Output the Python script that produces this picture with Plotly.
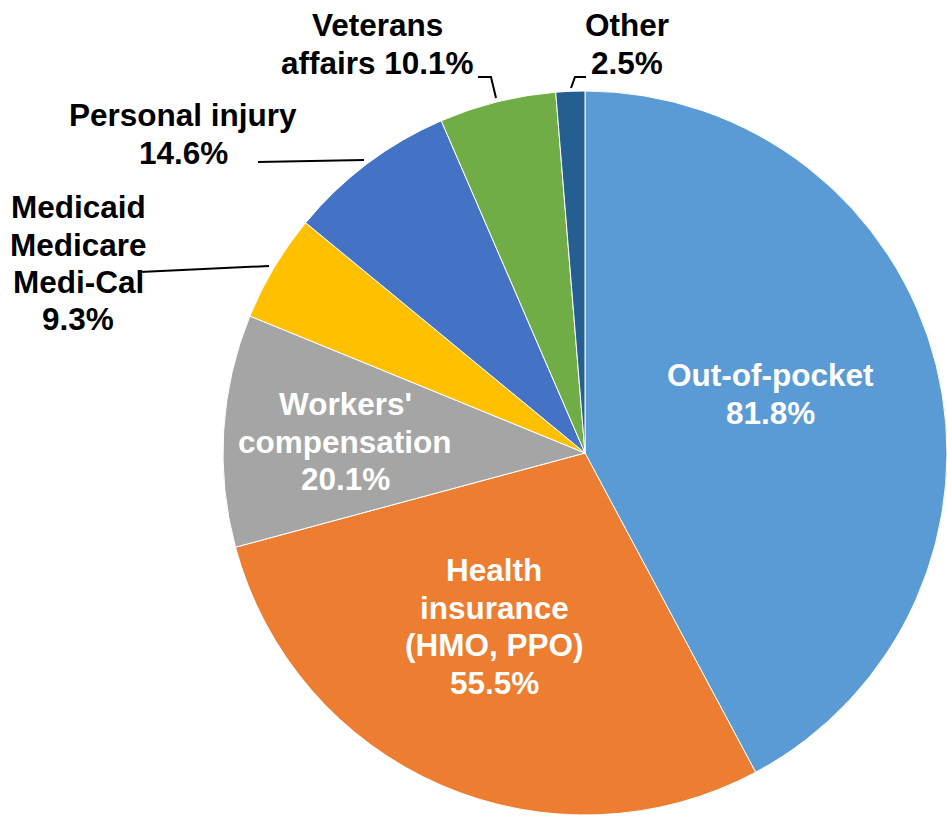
import plotly.graph_objects as go

# ---- data ----
categories = ["Out-of-pocket", "Health insurance (HMO, PPO)", "Workers' compensation",
              "Medicaid Medicare Medi-Cal", "Personal injury", "Veterans affairs", "Other"]
values = [81.8, 55.5, 20.1, 9.3, 14.6, 10.1, 2.5]
label_lines = [
    ["Out-of-pocket"],
    ["Health", "insurance", "(HMO, PPO)"],
    ["Workers'", "compensation"],
    ["Medicaid", "Medicare", "Medi-Cal"],
    ["Personal injury"],
    ["Veterans", "affairs"],
    ["Other"],
]
colors = ["#5B9BD5", "#ED7D31", "#A5A5A5", "#FFC000", "#4472C4", "#70AD47", "#255E91"]

# ---- layout constants (pixels) ----
W, H = 947, 822
CX, CY, R = 585, 453, 362
LINE = 37.5
FONT = "Arial, Liberation Sans, sans-serif"
FS = 31.5

def px(x, y):
    return x / W, 1 - y / H

# label placement: (center x, first line center y, colour, percent appended to last line?)
placements = [
    (770, 375, "white", False),
    (494, 570, "white", False),
    (345, 404, "white", False),
    (78, 207, "black", False),
    (183, 115, "black", False),
    (377, 25, "black", True),
    (627, 25, "black", False),
]

fig = go.Figure(go.Pie(
    labels=categories,
    values=values,
    sort=False,
    direction="clockwise",
    rotation=0,
    marker=dict(colors=colors, line=dict(color="white", width=1)),
    textinfo="none",
    hoverinfo="label+value",
    domain=dict(x=[(CX - R) / W, (CX + R) / W], y=[(H - CY - R) / H, (H - CY + R) / H]),
))

annotations = []
for lines, val, (lx, ly, col, inline_pct) in zip(label_lines, values, placements):
    pct = f"{val}%"
    all_lines = list(lines)
    if inline_pct:
        all_lines[-1] = all_lines[-1] + " " + pct
    else:
        all_lines.append(pct)
    for i, t in enumerate(all_lines):
        x, y = px(lx, ly + i * LINE)
        annotations.append(dict(
            x=x, y=y, xref="paper", yref="paper", text=f"<b>{t}</b>",
            showarrow=False, xanchor="center", yanchor="middle",
            font=dict(family=FONT, size=FS, color=col),
        ))

# leader lines (pixel paths)
leaders = [
    [(258, 162), (364, 160)],
    [(140, 272), (269, 266)],
    [(478, 77), (491, 77), (496, 98)],
    [(586, 77), (575, 77), (571, 88)],
]
shapes = []
for pts in leaders:
    path = ""
    for j, (x, y) in enumerate(pts):
        xx, yy = px(x, y)
        path += ("M" if j == 0 else " L") + f" {xx} {yy}"
    shapes.append(dict(type="path", xref="paper", yref="paper", path=path,
                       line=dict(color="black", width=2)))

fig.update_layout(
    width=W, height=H,
    margin=dict(l=0, r=0, t=0, b=0),
    paper_bgcolor="white", plot_bgcolor="white",
    showlegend=False,
    annotations=annotations,
    shapes=shapes,
)

fig.write_html("out.html", config={"displayModeBar": False},
               post_script="document.body.style.margin='0';")
